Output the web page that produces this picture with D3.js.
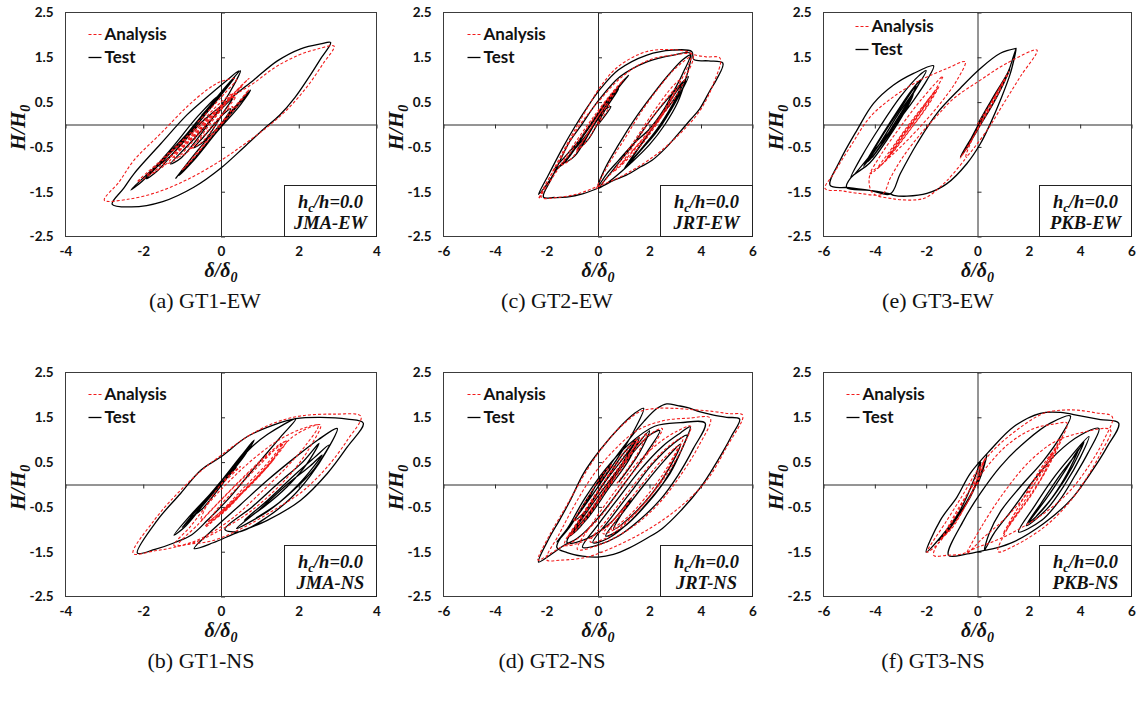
<!DOCTYPE html>
<html>
<head>
<meta charset="utf-8">
<script src="https://cdn.jsdelivr.net/npm/d3@7"></script>
<style>
  body { margin: 0; background: #fff; }
  svg { display: block; }
</style>
</head>
<body>
<svg id="fig" width="1141" height="706"></svg>
<script>
// ---- Hysteresis records: normalised drift (delta/delta0) vs shear (H/H0) ----
// null entries separate strokes that are not joined.

const aTest = [
  [0,0],[0.25,0.35],[0.05,0.22],[-0.45,-0.28],[-0.7,-0.52],[-0.42,-0.36],[0.1,0.32],[0.3,0.58],[0.02,0.36],[-0.8,-0.42],[-1.3,-0.88],[-1.02,-0.74],[-0.3,0.04],[0.2,0.68],[0.5,1.2],[0.24,0.96],[-0.4,0.3],[-1.1,-0.44],[-1.92,-1.21],[-1.62,-1.02],[-0.9,-0.3],[-0.2,0.44],[0.35,1.04],[0.06,0.76],[-0.7,-0.04],[-1.5,-0.78],[-2.32,-1.46],[-2.02,-1.26],[-1.3,-0.56],[-0.6,0.18],[-0.1,0.62],[-0.5,0.12],[-1.2,-0.55],[-1.75,-1.0],[-1.3,-0.7],[-0.5,0.05],[0.3,0.62],
  [0.85,1.0],[1.45,1.42],[2.05,1.69],[2.56,1.8],[2.82,1.83],
  [2.55,1.45],[2.25,1.04],[1.9,0.6],[1.5,0.2],[1.1,-0.1],[0.6,-0.5],[0.0,-0.97],[-0.7,-1.4],[-1.5,-1.72],[-2.3,-1.84],[-2.8,-1.78],
  [-2.5,-1.42],[-2.24,-1.1],[-1.55,-0.43],[-0.87,0.22],[-0.35,0.62],[0.1,0.95],[0.46,1.2],[0.15,0.85],[-0.5,0.2],
  null,
  [-1.17,-1.21],[-0.6,-0.58],[0.0,0.02],[0.45,0.48],[0.76,0.77],[0.5,0.44],[-0.1,-0.16],[-0.7,-0.8],[-1.08,-1.14],[-0.6,-0.66],[0.1,0.08],[0.68,0.68]
];
const aAna = [
  [0,0],[0.3,0.4],[0.05,0.25],[-0.5,-0.3],[-0.82,-0.55],[-0.5,-0.4],[0.1,0.3],[0.38,0.62],[0.1,0.46],[-0.6,-0.2],[-1.2,-0.74],[-0.9,-0.64],[-0.2,0.1],[0.4,0.76],[0.72,1.03],[0.45,0.8],[-0.3,0.14],[-1.0,-0.5],[-1.5,-0.9],[-1.2,-0.8],[-0.5,-0.15],[0.2,0.54],[0.55,0.86],[0.25,0.64],[-0.5,0.0],[-1.3,-0.64],[-1.9,-1.14],[-1.52,-0.96],[-0.8,-0.34],[-0.1,0.3],[0.3,0.7],[0.0,0.5],[-0.8,-0.2],[-1.6,-0.84],[-2.15,-1.28],[-1.8,-1.1],[-1.0,-0.46],[-0.3,0.18],
  [0.3,0.62],[0.85,0.93],[1.4,1.28],[2.0,1.55],[2.5,1.69],[2.91,1.75],
  [2.62,1.35],[2.22,0.85],[1.72,0.35],[1.2,-0.05],[0.6,-0.44],[0.0,-0.8],[-0.8,-1.2],[-1.6,-1.5],[-2.4,-1.67],[-3.0,-1.69],
  [-2.62,-1.28],[-2.24,-0.8],[-1.55,-0.2],[-0.87,0.4],[-0.35,0.78],[0.0,0.96],[0.4,1.02],[0.1,0.7],[-0.6,0.05],
  null,
  [-1.0,-1.02],[-0.5,-0.5],[0.1,0.14],[0.5,0.55],[0.72,0.78],[0.45,0.45],[-0.2,-0.22],[-0.75,-0.8],[-0.95,-0.98]
];

const cTest = [
  [0,0],[0.5,0.4],[0.2,0.3],[-0.4,-0.25],[-0.8,-0.55],[-0.4,-0.35],[0.3,0.35],[0.8,0.8],[0.5,0.65],[-0.3,0.0],[-1.0,-0.6],[-1.3,-0.85],[-0.9,-0.7],[-0.1,0.05],[0.7,0.75],[1.19,1.1],[0.8,0.85],[0.0,0.25],[-0.8,-0.4],[-1.73,-1.02],[-1.3,-0.85],[-0.5,-0.2],[0.4,0.55],[0.9,0.92],[0.5,0.55],[-0.4,-0.2],[-1.2,-0.75],[-1.6,-1.0],
  [-2.0,-1.35],[-2.31,-1.56],
  [-1.9,-1.1],[-1.4,-0.55],[-0.9,-0.05],[-0.4,0.4],[0.1,0.8],[0.8,1.22],[1.9,1.55],[2.9,1.66],[3.64,1.63],
  [3.72,1.45],[4.3,1.42],[4.85,1.37],
  [4.6,1.0],[4.36,0.77],[3.95,0.35],[3.58,0.1],[3.1,-0.22],[2.67,-0.5],[2.1,-0.8],[1.64,-0.95],[1.1,-1.13],[0.6,-1.25],[0.08,-1.4],[-0.6,-1.55],[-1.21,-1.62],[-1.7,-1.63],[-2.12,-1.62],
  [-1.8,-1.2],[-1.47,-0.8],[-1.1,-0.38],[-0.69,-0.05],[0.0,0.52],[0.86,1.07],[1.9,1.4],[2.93,1.55],[3.58,1.59],
  [3.3,1.15],[2.9,0.7],[2.54,0.32],[2.0,-0.1],[1.38,-0.43],[0.8,-0.8],[0.34,-1.1],[0.0,-1.38],
  [0.3,-0.95],[0.8,-0.45],[1.4,0.1],[2.1,0.65],[2.8,1.15],[3.3,1.45],[3.6,1.55],
  [3.4,1.0],[3.1,0.5],[2.6,0.0],[2.0,-0.45],[1.3,-0.85],[0.6,-1.2],[0.05,-1.42],
  [0.6,-1.0],[1.3,-0.5],[2.1,0.15],[2.9,0.7],[3.51,1.07],[3.2,0.7],[2.7,0.2],[2.0,-0.35],[1.4,-0.75],[1.0,-1.0],[1.6,-0.5],[2.4,0.15],[3.0,0.6],[3.3,0.9],[2.9,0.45],[2.3,-0.1],[1.6,-0.6],[1.2,-0.85],[1.8,-0.35],[2.5,0.25],[3.1,0.78],[3.4,0.98],[3.0,0.5],[2.3,-0.15],[1.7,-0.55]
];
const cAna = [
  [0,0],[0.45,0.42],[0.15,0.3],[-0.45,-0.25],[-0.85,-0.6],[-0.45,-0.38],[0.3,0.38],[0.75,0.82],[0.45,0.62],[-0.35,-0.02],[-1.05,-0.62],[-1.4,-0.9],[-1.0,-0.74],[-0.15,0.05],[0.65,0.75],[1.0,1.0],[0.6,0.75],[-0.2,0.15],[-1.0,-0.5],[-1.5,-0.95],
  [-1.9,-1.3],[-2.31,-1.66],
  [-1.9,-1.2],[-1.4,-0.65],[-0.9,-0.12],[-0.4,0.38],[0.1,0.85],[0.8,1.3],[1.9,1.63],[2.93,1.67],[3.5,1.62],[3.71,1.56],
  [4.2,1.51],[4.74,1.48],
  [4.49,0.92],[3.97,0.32],[3.19,-0.2],[2.15,-0.72],[0.86,-1.17],[0.08,-1.36],[-0.8,-1.55],[-1.6,-1.63],[-2.2,-1.62],
  [-1.5,-0.82],[-0.75,-0.05],[0.0,0.5],[0.9,1.05],[1.9,1.42],[2.9,1.55],[3.68,1.55],
  [3.4,1.05],[3.0,0.6],[2.5,0.2],[1.9,-0.25],[1.2,-0.7],[0.5,-1.1],[-0.05,-1.43],
  [0.4,-0.9],[1.0,-0.35],[1.7,0.3],[2.4,0.85],[3.0,1.25],[3.6,1.5],
  [3.2,0.95],[2.6,0.3],[1.9,-0.3],[1.2,-0.75],[0.6,-1.05],[0.9,-0.8],[1.6,-0.2],[2.3,0.4],[2.9,0.85],[3.2,1.0],[2.8,0.5],[2.1,-0.05],[1.4,-0.55],[0.9,-0.9],[1.4,-0.45],[2.1,0.15],[2.7,0.6],[3.0,0.8],[2.5,0.25],[1.8,-0.3],[1.3,-0.6]
];

const eTest = [
  [0,0],[0.5,0.5],[1.0,0.95],[1.26,1.23],[0.9,0.78],[0.3,0.18],[-0.3,-0.36],[-0.67,-0.72],[-0.3,-0.42],[0.3,0.28],[0.9,0.88],[1.15,1.1],[0.7,0.56],[0.0,-0.12],[-0.5,-0.6],[-0.2,-0.26],[0.6,0.6],[1.2,1.18],
  [1.4,1.52],[1.51,1.7],
  [1.28,1.14],[0.89,0.54],[0.5,0.02],[0.11,-0.43],[-0.41,-0.87],[-1.19,-1.32],[-1.97,-1.54],[-2.75,-1.6],[-3.27,-1.58],[-3.4,-1.55],
  [-4.2,-1.47],[-5.0,-1.41],[-5.74,-1.36],
  [-5.35,-0.8],[-4.7,-0.13],[-4.05,0.47],[-3.27,0.88],[-2.49,1.14],[-1.71,1.31],
  [-1.97,0.99],[-2.49,0.54],[-3.27,-0.05],[-4.05,-0.6],[-4.94,-1.19],
  [-4.5,-0.7],[-3.8,-0.05],[-3.0,0.62],[-2.3,1.08],[-2.0,1.2],[-2.4,0.8],[-3.1,0.22],[-3.8,-0.42],[-4.44,-0.93],[-4.0,-0.5],[-3.3,0.14],[-2.6,0.74],[-2.2,1.0],[-2.6,0.6],[-3.3,-0.04],[-3.9,-0.58],[-4.3,-0.84],[-3.8,-0.34],[-3.0,0.36],[-2.4,0.86],[-2.7,0.48],[-3.4,-0.18],[-4.1,-0.74],[-3.7,-0.4],[-3.1,0.15],[-2.5,0.68],[-2.8,0.32],[-3.5,-0.32],[-4.2,-0.86],[-4.94,-1.19],
  [-5.1,-1.41],[-4.2,-1.47],[-3.4,-1.55],
  [-3.01,-1.1],[-2.36,-0.43],[-1.58,0.25],[-0.67,0.81],[0.11,1.25],[0.89,1.59],[1.51,1.7]
];
const eAna = [
  [0,0],[0.6,0.56],[1.22,1.18],[0.8,0.68],[0.1,-0.02],[-0.4,-0.5],[-0.67,-0.75],[-0.3,-0.42],[0.4,0.34],[1.0,0.96],[0.6,0.5],[-0.1,-0.2],[-0.45,-0.72],
  [0.37,-0.13],[1.02,0.47],[1.67,1.07],[2.32,1.66],
  [1.15,1.37],[0.11,0.99],[-0.93,0.58],[-1.6,0.18],[-2.23,-0.22],[-2.9,-0.72],[-3.4,-1.2],[-3.7,-1.55],
  [-4.57,-1.54],[-5.3,-1.48],[-5.94,-1.43],
  [-5.61,-1.1],[-4.96,-0.5],[-4.18,0.17],[-3.27,0.62],[-2.23,0.99],[-1.19,1.25],[-0.48,1.4],
  [-0.8,0.99],[-1.45,0.47],[-2.36,-0.13],[-3.27,-0.65],[-4.18,-1.1],
  [-3.7,-0.62],[-3.0,-0.05],[-2.2,0.55],[-1.35,1.08],[-1.7,0.72],[-2.4,0.18],[-3.1,-0.36],[-3.6,-0.82],[-3.2,-0.5],[-2.5,0.06],[-1.8,0.6],[-1.5,0.85],[-1.9,0.45],[-2.6,-0.1],[-3.3,-0.62],[-3.9,-0.98],[-3.4,-0.58],[-2.7,-0.02],[-2.0,0.5],[-1.6,0.78],[-2.1,0.3],[-2.8,-0.24],[-3.5,-0.74],[-3.1,-0.38],[-2.4,0.16],[-1.9,0.58],[-2.3,0.2],[-3.0,-0.34],[-3.7,-0.88],[-4.18,-1.1],
  [-4.1,-1.52],[-3.27,-1.66],[-2.36,-1.68],[-1.97,-1.62],[-1.19,-1.25],[-0.41,-0.72]
];

const bTest = [
  [0,0],[0.4,0.38],[0.1,0.12],[-0.4,-0.38],[-0.8,-0.74],[-0.5,-0.56],[0.2,0.2],[0.6,0.64],[0.85,0.99],[0.5,0.62],[-0.2,-0.14],[-0.8,-0.7],[-1.21,-1.13],[-0.9,-0.92],[-0.2,-0.16],[0.4,0.5],[0.75,0.86],[0.3,0.38],[-0.5,-0.44],[-1.0,-0.96],[-0.6,-0.6],[0.1,0.12],[0.7,0.76],
  [1.2,1.12],[1.92,1.46],
  [1.54,1.07],[1.1,0.62],[0.6,0.1],[0.16,-0.35],[-0.35,-0.8],[-0.75,-1.12],[-1.2,-1.3],[-1.7,-1.45],[-2.15,-1.53],
  [-1.64,-0.8],[-1.04,-0.2],[-0.52,0.32],[0.0,0.62],[0.68,1.07],[1.36,1.33],[1.92,1.47],[2.56,1.5],[3.25,1.46],[3.66,1.37],
  [3.25,0.84],[2.74,0.25],[2.05,-0.35],[1.19,-0.8],[0.33,-1.1],[-0.2,-1.3],[-0.69,-1.43],
  [-0.2,-1.0],[0.5,-0.45],[1.2,0.1],[1.9,0.6],[2.5,1.0],[2.99,1.25],
  [2.7,0.72],[2.3,0.2],[1.8,-0.3],[1.2,-0.72],[0.5,-1.05],[0.1,-1.0],
  [0.8,-0.5],[1.5,0.05],[2.1,0.5],[2.52,0.92],[2.2,0.45],[1.7,-0.05],[1.1,-0.5],[0.6,-0.8],[1.2,-0.35],[1.9,0.22],[2.4,0.6],[2.78,0.88],[2.4,0.35],[1.8,-0.18],[1.2,-0.6],[0.4,-0.98],[1.0,-0.55],[1.7,0.0],[2.3,0.42],[2.6,0.66],[2.1,0.1],[1.5,-0.4],[0.9,-0.75]
];
const bAna = [
  [0,0],[0.5,0.4],[0.2,0.2],[-0.3,-0.36],[-0.52,-0.8],[-0.2,-0.52],[0.5,0.1],[1.1,0.6],[1.54,0.92],[1.2,0.62],[0.5,0.0],[-0.1,-0.55],[-0.4,-0.95],[0.0,-0.65],[0.7,-0.05],[1.3,0.5],[1.62,0.96],[1.3,0.58],[0.6,-0.06],[0.0,-0.6],[-0.3,-0.82],[0.2,-0.45],[0.9,0.15],[1.4,0.62],[1.1,0.3],[0.4,-0.3],[-0.2,-0.8],[0.3,-0.4],[1.0,0.2],[1.5,0.75],
  [1.9,1.1],[2.56,1.33],
  [2.3,0.85],[1.9,0.35],[1.3,-0.2],[0.6,-0.7],[-0.2,-1.1],[-0.7,-1.3],[-1.21,-1.36],
  [-0.8,-0.95],[-0.3,-0.4],[0.3,0.15],[0.9,0.62],[1.5,1.0],[2.1,1.25],[2.5,1.32],
  [2.2,0.9],[1.7,0.4],[1.0,-0.2],[0.3,-0.75],[-0.5,-1.2],[-1.2,-1.4],[-1.7,-1.48],[-2.26,-1.54],
  [-1.72,-0.8],[-1.12,-0.2],[-0.52,0.3],[0.0,0.65],[0.68,1.07],[1.36,1.37],[2.05,1.53],[2.91,1.57],[3.6,1.52],
  [3.25,0.99],[2.74,0.4],[2.1,-0.15],[1.4,-0.55],[0.6,-0.95],[-0.2,-1.25],[-0.8,-1.33],[-1.1,-1.35],
  [-0.6,-0.9],[0.0,-0.35],[0.7,0.25],[1.3,0.72],[1.7,0.98],[1.3,0.5],[0.7,-0.05],[0.1,-0.6],[-0.4,-0.92],[0.2,-0.5],[0.8,0.05],[1.35,0.55]
];

const dTest = [
  [0,0],[0.5,0.4],[0.2,0.25],[-0.4,-0.35],[-0.9,-0.8],[-0.5,-0.6],[0.3,0.1],[1.0,0.7],[1.5,1.0],[1.1,0.62],[0.3,-0.1],[-0.5,-0.75],[-1.1,-1.15],[-0.7,-0.95],[0.2,-0.2],[1.2,0.6],[2.0,1.1],[2.4,1.2],[1.9,0.72],[1.0,0.0],[0.0,-0.75],[-0.8,-1.2],[-1.3,-1.35],
  [-1.8,-1.55],[-2.31,-1.73],
  [-1.9,-1.2],[-1.5,-0.8],[-1.1,-0.38],[-0.56,0.25],[0.08,0.77],[0.86,1.29],[1.4,1.58],[1.77,1.7],
  [1.35,1.15],[0.8,0.62],[0.3,0.2],[-0.3,-0.3],[-1.0,-0.85],[-1.6,-1.28],[-1.1,-0.95],[-0.4,-0.3],[0.3,0.3],[1.0,0.85],[1.8,1.42],[2.3,1.7],[2.67,1.8],[3.1,1.76],[3.45,1.72],[3.97,1.62],[4.49,1.55],[5.0,1.5],[5.5,1.46],
  [5.2,1.1],[4.87,0.75],[4.4,0.3],[4.0,-0.05],[3.19,-0.6],[2.5,-0.98],[1.9,-1.2],[1.2,-1.42],[0.6,-1.56],[0.0,-1.62],[-0.6,-1.6],[-1.2,-1.52],[-1.6,-1.4],
  [-1.1,-0.9],[-0.5,-0.3],[0.3,0.35],[1.2,0.9],[2.2,1.3],[3.2,1.38],[4.16,1.37],
  [3.7,0.8],[3.1,0.2],[2.4,-0.35],[1.6,-0.8],[0.8,-1.15],[0.0,-1.35],[-0.6,-1.4],
  [0.0,-0.9],[0.8,-0.3],[1.6,0.3],[2.5,0.85],[3.2,1.15],[3.58,1.29],
  [3.3,0.85],[2.8,0.25],[2.0,-0.35],[1.2,-0.85],[0.4,-1.2],[-0.2,-1.3],
  [0.5,-0.75],[1.3,-0.15],[2.1,0.45],[2.9,0.9],[3.45,1.1],
  [3.1,0.6],[2.5,0.0],[1.8,-0.5],[1.0,-0.95],[0.3,-1.15],
  [1.0,-0.6],[1.8,0.0],[2.6,0.55],[3.2,0.9],[2.8,0.4],[2.1,-0.2],[1.3,-0.7],[0.6,-1.0],
  [1.3,-0.3],[0.5,-0.85],[-0.4,-1.2],[-1.2,-1.3],[-0.6,-0.7],[0.2,0.0],[1.0,0.6],[1.6,1.05],[1.2,0.55],[0.4,-0.1],[-0.4,-0.75],[-1.0,-1.1],[-0.3,-0.5],[0.6,0.2],[1.4,0.8],[2.0,1.2],[1.6,0.7],[0.8,0.05]
];
const dAna = [
  [0,0],[0.55,0.45],[0.2,0.25],[-0.45,-0.35],[-0.95,-0.82],[-0.55,-0.62],[0.3,0.12],[1.0,0.72],[1.6,1.05],[1.2,0.66],[0.3,-0.08],[-0.5,-0.72],[-1.2,-1.18],[-0.8,-0.98],[0.2,-0.2],[1.2,0.62],[2.1,1.15],[2.5,1.25],[2.0,0.75],[1.0,0.0],[0.0,-0.78],[-0.9,-1.25],[-1.5,-1.42],
  [-1.9,-1.56],[-2.33,-1.69],
  [-1.9,-1.15],[-1.45,-0.7],[-1.0,-0.25],[-0.45,0.3],[0.2,0.85],[0.9,1.3],[1.64,1.63],[2.3,1.7],[2.93,1.7],[3.7,1.67],[4.49,1.63],[5.1,1.58],[5.62,1.55],
  [5.0,0.84],[4.23,0.1],[3.19,-0.5],[1.9,-1.02],[0.6,-1.4],[-0.43,-1.62],[-1.47,-1.69],[-2.0,-1.68],
  [-1.5,-1.1],[-0.9,-0.45],[-0.2,0.2],[0.6,0.75],[1.5,1.2],[2.5,1.42],[3.5,1.48],[4.36,1.48],
  [3.9,0.85],[3.2,0.2],[2.4,-0.4],[1.5,-0.88],[0.6,-1.2],[-0.2,-1.4],[-0.8,-1.45],
  [-0.2,-0.85],[0.6,-0.2],[1.4,0.4],[2.3,0.9],[3.1,1.2],[3.6,1.3],
  [3.3,0.85],[2.7,0.25],[1.9,-0.35],[1.1,-0.85],[0.3,-1.2],[-0.3,-1.28],
  [0.4,-0.75],[1.2,-0.15],[2.0,0.42],[2.8,0.88],[3.3,1.05],
  [2.9,0.55],[2.3,-0.05],[1.6,-0.55],[0.8,-0.95],[0.2,-1.1],
  [0.9,-0.6],[1.7,0.0],[2.5,0.55],[3.1,0.85],[2.6,0.3],[1.9,-0.25],[1.2,-0.7],[0.5,-1.0],
  [1.2,-0.4],[0.4,-0.9],[-0.5,-1.25],[-1.3,-1.35],[-0.7,-0.75],[0.1,-0.05],[0.9,0.55],[1.5,1.0],[1.1,0.5],[0.3,-0.15],[-0.5,-0.8],[-1.1,-1.15],[-0.4,-0.55],[0.5,0.15],[1.3,0.75],[1.9,1.15],[1.5,0.65],[0.7,0.0]
];

const fTest = [
  [0,0],[0.2,0.3],[0.37,0.66],[0.2,0.36],[-0.3,-0.3],[-1.0,-0.9],[-1.5,-1.25],[-1.1,-1.0],[-0.5,-0.46],[0.0,0.1],[0.11,0.51],[-0.1,0.16],[-0.7,-0.6],[-1.4,-1.15],[-2.0,-1.51],
  [-1.45,-0.8],[-0.8,-0.28],[-0.28,0.25],[0.5,0.77],[1.41,1.29],[2.45,1.59],[3.23,1.61],[4.01,1.53],[4.79,1.45],[5.5,1.37],
  [5.05,0.84],[4.4,0.25],[3.62,-0.35],[2.58,-0.87],[1.41,-1.28],[0.7,-1.42],[0.27,-1.47],
  [-0.4,-1.55],[-1.13,-1.58],
  [-0.54,-0.8],[0.11,-0.2],[0.89,0.4],[1.93,0.99],[2.84,1.37],[3.62,1.53],
  [3.23,1.07],[2.58,0.54],[1.67,-0.05],[0.9,-0.6],[0.45,-1.1],[0.27,-1.47],
  [0.63,-1.1],[1.3,-0.6],[2.2,0.1],[3.1,0.7],[4.0,1.1],[4.73,1.25],
  [4.3,0.7],[3.8,0.2],[3.2,-0.35],[2.5,-0.8],[1.6,-1.06],
  [2.2,-0.5],[2.9,0.1],[3.6,0.6],[4.34,1.07],[4.0,0.6],[3.4,0.0],[2.7,-0.55],[1.9,-0.92],[2.5,-0.4],[3.2,0.2],[3.8,0.65],[4.15,0.95],[3.7,0.4],[3.1,-0.15],[2.4,-0.65],[2.0,-0.85],[2.7,-0.3],[3.4,0.3],[3.95,0.8],[3.5,0.25],[2.9,-0.3],[2.3,-0.7]
];
const fAna = [
  [0,0],[0.15,0.3],[0.3,0.6],[0.1,0.3],[-0.4,-0.4],[-1.0,-0.95],[-1.4,-1.2],[-1.0,-0.98],[-0.4,-0.4],[0.1,0.2],[0.2,0.45],[-0.2,0.0],[-0.9,-0.75],[-1.5,-1.3],[-1.97,-1.51],
  [-1.19,-0.8],[-0.54,-0.2],[0.0,0.32],[0.63,0.77],[1.54,1.22],[2.58,1.59],[3.3,1.66],[3.88,1.66],[4.6,1.6],[5.25,1.51],
  [4.92,0.99],[4.4,0.47],[3.62,-0.13],[2.58,-0.65],[1.28,-1.1],[0.5,-1.3],[0.0,-1.4],[-0.6,-1.55],[-1.19,-1.58],[-1.71,-1.58],
  [-1.2,-1.0],[-0.5,-0.3],[0.3,0.35],[1.2,0.9],[2.2,1.25],[3.0,1.35],[3.49,1.37],
  [3.1,0.85],[2.5,0.25],[1.8,-0.3],[1.0,-0.8],[0.2,-1.2],[-0.41,-1.54],
  [0.2,-0.9],[1.0,-0.2],[2.0,0.5],[3.0,0.95],[4.0,1.15],[5.18,1.22],
  [4.8,0.7],[4.2,0.1],[3.5,-0.45],[2.6,-0.95],[1.5,-1.35],[0.8,-1.5],
  [1.2,-0.95],[1.8,-0.4],[2.4,0.2],[2.9,0.7],[3.3,1.05],[2.9,0.55],[2.3,-0.05],[1.7,-0.55],[1.0,-1.1],[1.5,-0.6],[2.1,0.0],[2.7,0.5],[3.1,0.85],[2.7,0.35],[2.1,-0.2],[1.5,-0.7],[1.2,-0.9],[1.8,-0.3],[2.4,0.3],[2.9,0.7],[2.5,0.15],[1.9,-0.4],[1.4,-0.75]
];

// ---- Axes, labels ----
const xTicksNarrow = [-4, -2, 0, 2, 4];
const xTicksWide = [-6, -4, -2, 0, 2, 4, 6];
const yTicks = [2.5, 1.5, 0.5, -0.5, -1.5, -2.5];
const captions = ["(a) GT1-EW", "(c) GT2-EW", "(e) GT3-EW", "(b) GT1-NS", "(d) GT2-NS", "(f) GT3-NS"];
const records = ["JMA-EW", "JRT-EW", "PKB-EW", "JMA-NS", "JRT-NS", "PKB-NS"];
const legendLabels = ["Analysis", "Test"];

// ---- Panel layout (pixels) ----
const colL = [65.5, 443.5, 823.5];
const colR = [376.5, 752.5, 1131.5];
const rowT = [12.5, 372.5];
const rowB = [236.5, 596.5];
const capX = [205, 557, 938, 201, 552, 933];

const panels = [
  { test: aTest, ana: aAna, ticks: xTicksNarrow, col: 0, row: 0, legX: 39, legY: 27 },
  { test: cTest, ana: cAna, ticks: xTicksWide,   col: 1, row: 0, legX: 40, legY: 27 },
  { test: eTest, ana: eAna, ticks: xTicksWide,   col: 2, row: 0, legX: 48, legY: 19 },
  { test: bTest, ana: bAna, ticks: xTicksNarrow, col: 0, row: 1, legX: 39, legY: 27 },
  { test: dTest, ana: dAna, ticks: xTicksWide,   col: 1, row: 1, legX: 40, legY: 27 },
  { test: fTest, ana: fAna, ticks: xTicksWide,   col: 2, row: 1, legX: 39, legY: 27 }
];

const RED = "#f21b1b";
const SANS = "Lato, 'Open Sans', sans-serif";
const SERIF = "'Liberation Serif', 'Times New Roman', serif";

const svg = d3.select("#fig");
svg.append("rect").attr("width", 1141).attr("height", 706).attr("fill", "#fff");
const defs = svg.append("defs");

panels.forEach((p, i) => {
  const L = colL[p.col], R = colR[p.col], T = rowT[p.row], B = rowB[p.row];
  const x = d3.scaleLinear().domain([p.ticks[0], p.ticks[p.ticks.length - 1]]).range([L, R]);
  const y = d3.scaleLinear().domain([-2.5, 2.5]).range([B, T]);
  const g = svg.append("g");

  defs.append("clipPath").attr("id", "clip" + i)
    .append("rect").attr("x", L).attr("y", T).attr("width", R - L).attr("height", B - T);

  // zero axes with small ticks
  const zx = g.append("g").attr("transform", `translate(0,${y(0)})`)
    .call(d3.axisBottom(x).tickValues(p.ticks).tickSize(4).tickSizeOuter(0).tickFormat(""));
  const zy = g.append("g").attr("transform", `translate(${x(0)},0)`)
    .call(d3.axisRight(y).tickValues(yTicks).tickSize(4).tickSizeOuter(0).tickFormat(""));
  [zx, zy].forEach(a => {
    a.selectAll("path,line").attr("stroke", "#2a2a2a").attr("stroke-width", 1);
  });

  // plot frame
  g.append("rect").attr("x", L).attr("y", T).attr("width", R - L).attr("height", B - T)
    .attr("fill", "none").attr("stroke", "#3c3c3c").attr("stroke-width", 1);

  // tick labels
  const bx = g.append("g").attr("transform", `translate(0,${B})`)
    .call(d3.axisBottom(x).tickValues(p.ticks).tickSize(0).tickPadding(10).tickFormat(d => String(d)));
  const ly = g.append("g").attr("transform", `translate(${L},0)`)
    .call(d3.axisLeft(y).tickValues(yTicks).tickSize(0).tickPadding(12).tickFormat(d => d.toFixed(1)));
  [bx, ly].forEach(a => {
    a.select(".domain").remove();
    a.selectAll("text").attr("font-family", SANS).attr("font-weight", 700)
      .attr("font-size", 13.5).attr("fill", "#111");
  });

  // curves
  const line = d3.line().defined(d => d !== null)
    .x(d => x(d[0])).y(d => y(d[1]))
    .curve(d3.curveCatmullRom.alpha(0.5));
  const cg = g.append("g").attr("clip-path", `url(#clip${i})`);
  cg.append("path").datum(p.test).attr("d", line)
    .attr("fill", "none").attr("stroke", "#000").attr("stroke-width", 1.3).attr("stroke-linejoin", "round");
  cg.append("path").datum(p.ana).attr("d", line)
    .attr("fill", "none").attr("stroke", RED).attr("stroke-width", 1.1).attr("stroke-dasharray", "3,2");

  // legend
  const lx = L + p.legX, l1 = T + p.legY, l2 = l1 + 23;
  g.append("line").attr("x1", lx - 16).attr("x2", lx - 3).attr("y1", l1 - 5).attr("y2", l1 - 5)
    .attr("stroke", RED).attr("stroke-width", 1.1).attr("stroke-dasharray", "3,2");
  g.append("line").attr("x1", lx - 16).attr("x2", lx - 3).attr("y1", l2 - 5).attr("y2", l2 - 5)
    .attr("stroke", "#000").attr("stroke-width", 1.3);
  [legendLabels[0], legendLabels[1]].forEach((t, k) => {
    g.append("text").attr("x", lx).attr("y", k ? l2 : l1).text(t)
      .attr("font-family", SANS).attr("font-weight", 700).attr("font-size", 17).attr("fill", "#111");
  });

  // record box
  const bw = 92, bh = 51;
  g.append("rect").attr("x", R - bw).attr("y", B - bh).attr("width", bw).attr("height", bh)
    .attr("fill", "#fff").attr("stroke", "#222").attr("stroke-width", 1);
  const t1 = g.append("text").attr("x", R - bw / 2).attr("y", B - 29).attr("text-anchor", "middle")
    .attr("font-family", SERIF).attr("font-weight", 700).attr("font-style", "italic").attr("font-size", 18.5).attr("fill", "#111");
  t1.append("tspan").text("h");
  t1.append("tspan").attr("dy", 4).attr("font-size", 13).text("c");
  t1.append("tspan").attr("dy", -4).text("/h=0.0");
  g.append("text").attr("x", R - bw / 2).attr("y", B - 8).attr("text-anchor", "middle")
    .attr("font-family", SERIF).attr("font-weight", 700).attr("font-style", "italic").attr("font-size", 18.5).attr("fill", "#111")
    .text(records[i]);

  // axis titles
  const xt = g.append("text").attr("x", (L + R) / 2).attr("y", B + 40).attr("text-anchor", "middle")
    .attr("font-family", SERIF).attr("font-weight", 700).attr("font-style", "italic").attr("font-size", 20).attr("fill", "#111");
  xt.append("tspan").text("δ/δ");
  xt.append("tspan").attr("dy", 5).attr("font-size", 14).text("0");

  const yt = g.append("text").attr("transform", `translate(${L - 41},${(T + B) / 2 + 3}) rotate(-90)`)
    .attr("text-anchor", "middle")
    .attr("font-family", SERIF).attr("font-weight", 700).attr("font-style", "italic").attr("font-size", 21).attr("fill", "#111");
  yt.append("tspan").text("H/H");
  yt.append("tspan").attr("dy", 5).attr("font-size", 14).text("0");

  // caption
  g.append("text").attr("x", capX[i]).attr("y", B + 71).attr("text-anchor", "middle")
    .attr("font-family", SERIF).attr("font-size", 22).attr("fill", "#111").text(captions[i]);
});
</script>
</body>
</html>
